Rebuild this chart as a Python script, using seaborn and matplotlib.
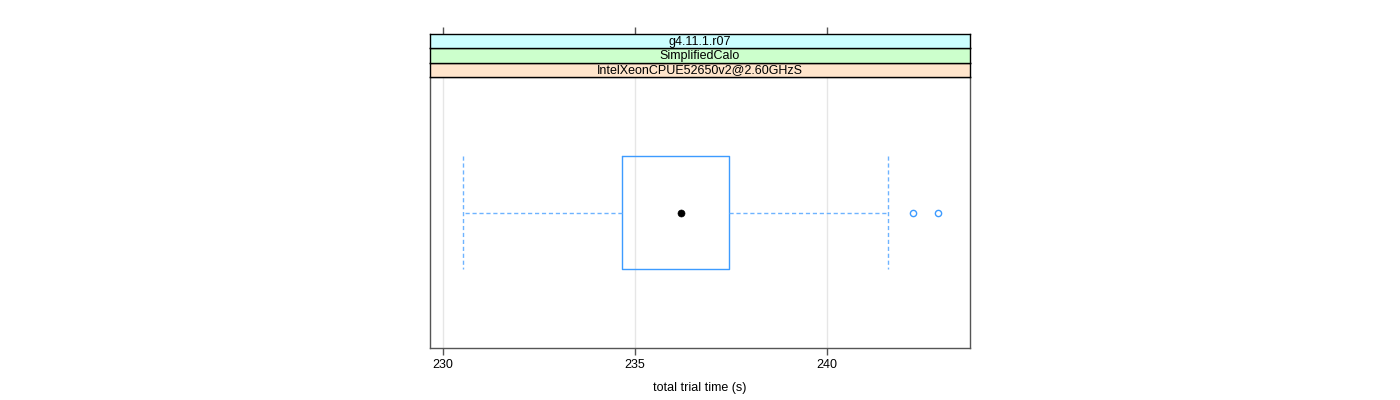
import numpy as np
import pandas as pd
import matplotlib
matplotlib.use("Agg")
import matplotlib.pyplot as plt
import seaborn as sns

# ── Data ────────────────────────────────────────────────────────────────
trial_times = [230.54, 233.20, 234.10, 234.66, 235.30, 235.80, 236.21,
               236.70, 237.10, 237.45, 241.59, 242.23, 242.89]
strip_labels = ["IntelXeonCPUE52650v2@2.60GHzS", "SimplifiedCalo", "g4.11.1.r07"]
strip_colors = ["#ffe5cc", "#ccffcc", "#ccffff"]
x_ticks = [230, 235, 240]
x_label = "total trial time (s)"

BOX_COLOR = "#3d9bff"
WHISK_COLOR = "#6eb3ff"
FONT = ["Liberation Sans", "DejaVu Sans"]

sns.set_style("white")
plt.rcParams["font.family"] = FONT
plt.rcParams["text.color"] = "black"
plt.rcParams["axes.labelcolor"] = "black"
plt.rcParams["xtick.labelcolor"] = "black"

fig = plt.figure(figsize=(14, 4), dpi=100)

# panel geometry in figure pixels
left, right = 430 / 1400, 969.5 / 1400
p_bottom, p_top = 1 - 348 / 400, 1 - 77 / 400
strip_h = (77 - 34) / 3 / 400

ax = fig.add_axes([left, p_bottom, right - left, p_top - p_bottom])
df = pd.DataFrame({"time": trial_times})
sns.boxplot(
    data=df, x="time", ax=ax, orient="h", fill=False, width=0.5,
    color=BOX_COLOR, linewidth=1.0, whis=1.5,
    whiskerprops=dict(color=WHISK_COLOR, linestyle=(0, (3, 2))),
    capprops=dict(color=WHISK_COLOR, linestyle=(0, (3, 2))),
    medianprops=dict(linewidth=0),
    flierprops=dict(marker="o", markerfacecolor="none",
                    markeredgecolor=BOX_COLOR, markersize=4.5, markeredgewidth=1.0),
    capwidths=0.5,
)
# median shown as a dot (lattice bwplot style)
sns.scatterplot(x=[float(np.median(trial_times))], y=[0], ax=ax,
                color="black", s=26, edgecolor="black", zorder=5, legend=False)

ax.set_xlim(229.67, 243.70)
ax.set_ylim(0.6, -0.6)
ax.set_yticks([])
ax.set_ylabel("")
ax.set_xticks(x_ticks)
ax.set_xticklabels([str(t) for t in x_ticks], fontsize=9, color="black")
ax.set_xlabel(x_label, fontsize=9, labelpad=8, color="black")
ax.tick_params(axis="x", direction="out", length=5, width=1, color="#555555",
               bottom=True, pad=3)
ax.grid(axis="x", color="#e6e6e6", linewidth=1)
ax.set_axisbelow(True)
for sp in ax.spines.values():
    sp.set_color("#555555")
    sp.set_linewidth(1)

# ── Strips ──────────────────────────────────────────────────────────────
for i, (lab, col) in enumerate(zip(strip_labels, strip_colors)):
    sax = fig.add_axes([left, p_top + i * strip_h, right - left, strip_h])
    sax.set_facecolor(col)
    sax.set_xlim(ax.get_xlim())
    sax.set_ylim(0, 1)
    sax.set_yticks([])
    sax.text(0.5, 0.45, lab, transform=sax.transAxes, ha="center", va="center",
             fontsize=9, family=FONT, color="black")
    for sp in sax.spines.values():
        sp.set_color("black")
        sp.set_linewidth(1)
    if i == len(strip_labels) - 1:
        sax.set_xticks(x_ticks)
        sax.tick_params(axis="x", top=True, bottom=False, labeltop=False,
                        labelbottom=False, direction="out", length=5,
                        width=1, color="#555555")
    else:
        sax.set_xticks([])

fig.savefig("out.png", dpi=100)
